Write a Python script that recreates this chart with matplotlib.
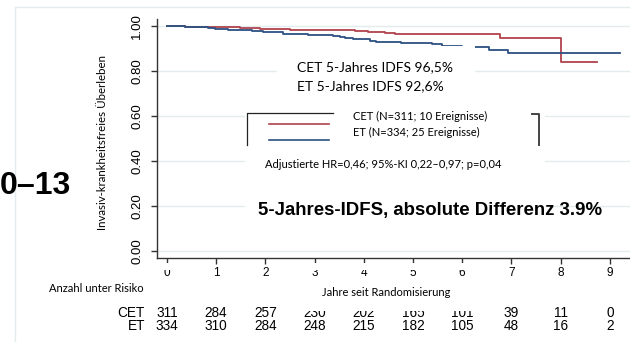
import matplotlib
matplotlib.use("Agg")
import matplotlib.pyplot as plt
from matplotlib.patches import Rectangle
from matplotlib.lines import Line2D
import matplotlib.transforms as mtransforms

# ---------------- data ----------------
cet_times = [0, 0.37, 1.48, 1.89, 2.50, 3.82, 4.09, 4.43, 4.63, 6.77, 8.00, 8.74]
cet_surv  = [1.0, 0.996, 0.991, 0.988, 0.984, 0.978, 0.973, 0.969, 0.964, 0.945, 0.842, 0.842]
et_times  = [0, 0.37, 0.83, 0.98, 1.24, 1.73, 1.95, 2.36, 2.87, 3.37, 3.52, 3.62, 3.78,
             4.13, 4.25, 4.76, 5.39, 5.59, 6.00, 6.55, 6.93, 9.20]
et_surv   = [1.0, 0.996, 0.993, 0.987, 0.982, 0.978, 0.973, 0.966, 0.959, 0.954, 0.951, 0.947, 0.940,
             0.933, 0.929, 0.925, 0.919, 0.913, 0.905, 0.893, 0.879, 0.879]
x_ticks = list(range(10))
y_ticks = [0.0, 0.2, 0.4, 0.6, 0.8, 1.0]
y_ticklabels = ["0.00", "0.20", "0.40", "0.60", "0.80", "1.00"]
risk_groups = ["CET", "ET"]
risk_cet = [311, 284, 257, 230, 202, 165, 101, 39, 11, 0]
risk_et  = [334, 310, 284, 248, 215, 182, 105, 48, 16, 2]
legend_labels = ["CET (N=311; 10 Ereignisse)", "ET (N=334; 25 Ereignisse)"]

RED = "#b0424c"
BLUE = "#2c5182"
GRID = "#e3ecef"
CAL = ["Lato", "DejaVu Sans"]
ARIAL = ["Liberation Sans", "DejaVu Sans"]

W, H = 630, 342
fig = plt.figure(figsize=(W / 100, H / 100), dpi=100)

def fx(x):
    return x / W

def fy(y):
    return 1 - y / H

ax = fig.add_axes([fx(157), fy(258), fx(630) - fx(157), fy(19) - fy(258)])
ax.set_xlim(-0.2, 9.41)
ax.set_ylim(-0.031, 1.031)

for y in y_ticks:
    ax.axhline(y, color=GRID, lw=1.0, zorder=0)

ax.step(cet_times, cet_surv, where="post", color=RED, lw=1.3, zorder=2)
ax.step(et_times, et_surv, where="post", color=BLUE, lw=1.3, zorder=2)

for s in ["top", "right"]:
    ax.spines[s].set_visible(False)
for s in ["left", "bottom"]:
    ax.spines[s].set_color("#333333")
    ax.spines[s].set_linewidth(1.0)

ax.set_xticks(x_ticks)
ax.set_xticklabels([str(t) for t in x_ticks], family=ARIAL, fontsize=8.5)
ax.set_yticks(y_ticks)
ax.set_yticklabels(y_ticklabels, family=ARIAL, fontsize=9.5, rotation=90, va="center")
ax.tick_params(axis="x", length=4, width=1, color="#333333", pad=2.5)
ax.tick_params(axis="y", length=4, width=1, color="#333333", pad=6)

# white text boxes of the slide (above grid and curves)
def white_box(x0, y0, x1, y1):
    fig.patches.append(Rectangle((fx(x0), fy(y1)), fx(x1) - fx(x0), fy(y0) - fy(y1),
                                 transform=fig.transFigure, facecolor="white",
                                 edgecolor="none", zorder=3))

white_box(277, 46, 475, 100)
white_box(245, 100, 545, 218)
white_box(300, 263, 490, 270)
white_box(300, 300, 490, 311)
white_box(160, 263, 175, 270)

# slide frame lines
fig.add_artist(Line2D([fx(15), fx(630)], [fy(7), fy(7)], transform=fig.transFigure,
                      color=GRID, lw=1.0))
fig.add_artist(Line2D([fx(15), fx(15)], [fy(7), fy(342)], transform=fig.transFigure,
                      color=GRID, lw=1.0))

# texts
fig.text(fx(0), fy(186), "0–13", family=ARIAL, fontweight="bold", fontsize=23,
         ha="left", va="center")
fig.text(fx(103), fy(143), "Invasiv-krankheitsfreies Überleben", family=CAL, fontsize=8.3,
         rotation=90, ha="center", va="center")
fig.text(fx(297), fy(67), "CET 5-Jahres IDFS 96,5%", family=CAL, fontsize=10,
         ha="left", va="center", zorder=4)
fig.text(fx(297), fy(86), "ET 5-Jahres IDFS 92,6%", family=CAL, fontsize=10,
         ha="left", va="center", zorder=4)

# legend frame
def fline(xs, ys, color="#222222", lw=0.9):
    fig.add_artist(Line2D([fx(x) for x in xs], [fy(y) for y in ys],
                          transform=fig.transFigure, color=color, lw=lw, zorder=5))

fline([333, 247, 247], [113, 113, 145])
fline([532, 539, 539], [114, 114, 145], color="#444444", lw=1.4)
fline([269, 329], [124, 124], color=RED, lw=1.2)
fline([269, 329], [140, 140], color=BLUE, lw=1.2)
fig.text(fx(353), fy(116), legend_labels[0], family=CAL, fontsize=8,
         ha="left", va="center", zorder=6)
fig.text(fx(353), fy(132), legend_labels[1], family=CAL, fontsize=8,
         ha="left", va="center", zorder=6)
fig.text(fx(265), fy(164), "Adjustierte HR=0,46; 95%-KI 0,22–0,97; p=0,04", family=CAL,
         fontsize=8, ha="left", va="center", zorder=6)
fig.text(fx(258), fy(210), "5-Jahres-IDFS, absolute Differenz 3.9%", family=ARIAL,
         fontweight="bold", fontsize=13.4, ha="left", va="center", zorder=6)

# risk table
fig.text(fx(49), fy(288), "Anzahl unter Risiko", family=CAL, fontsize=8,
         ha="left", va="center")
fig.text(fx(322), fy(292), "Jahre seit Randomisierung", family=CAL, fontsize=8,
         ha="left", va="center", zorder=6)
trans = mtransforms.blended_transform_factory(ax.transData, fig.transFigure)
for label, counts, ypix in zip(risk_groups, [risk_cet, risk_et], [313, 326]):
    fig.text(fx(145), fy(ypix), label, family=ARIAL, fontsize=9.8, ha="right", va="center")
    for t, n in zip(x_ticks, counts):
        fig.text(t, fy(ypix), str(n), transform=trans, family=ARIAL, fontsize=9.8,
                 ha="center", va="center", zorder=2)

fig.savefig("out.png", dpi=100)
